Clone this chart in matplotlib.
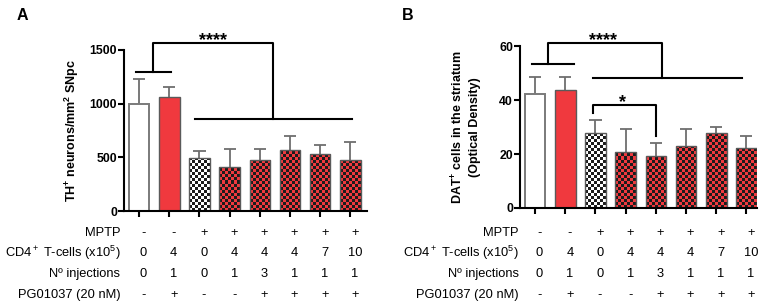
import numpy as np
import matplotlib
matplotlib.use('Agg')
from matplotlib import pyplot as plt
from matplotlib.transforms import blended_transform_factory

plt.rcParams['font.family'] = ['Liberation Sans', 'DejaVu Sans']
plt.rcParams['mathtext.fontset'] = 'custom'
plt.rcParams['mathtext.rm'] = 'Liberation Sans'
plt.rcParams['mathtext.bf'] = 'Liberation Sans:bold'
plt.rcParams['mathtext.it'] = 'Liberation Sans:italic'

W, H = 765, 305

# values (mean, upper SD)
th_mean = [1000, 1062, 491, 412, 472, 572, 534, 472]
th_err = [231, 94, 65, 163, 103, 125, 79, 169]
dat_mean = [42.1, 43.8, 27.9, 20.9, 19.1, 22.8, 27.9, 22.1]
dat_err = [6.6, 4.6, 4.7, 8.2, 4.9, 6.3, 2.2, 4.5]

# treatment table under the bars
mptp = ['-', '-', '+', '+', '+', '+', '+', '+']
cd4_cells = ['0', '4', '0', '4', '4', '4', '7', '10']
injections = ['0', '1', '0', '1', '3', '1', '1', '1']
pg01037 = ['-', '+', '-', '-', '+', '+', '+', '+']
row_labels = ['MPTP', 'CD4$^+$ T-cells (x10$^5$)', 'Nº injections', 'PG01037 (20 nM)']
fills = ['white', 'red', 'bw', 'rk', 'rk', 'rk', 'rk', 'rk']

RED = '#f0393e'
DARK = '#1c1c1c'
BAR_W = 0.68


def checker(ax, x0, x1, top, c1, c2, cell_px=3.0):
    # pixel size of one data unit, used to keep square cells
    bb = ax.get_position()
    xl, yl = ax.get_xlim(), ax.get_ylim()
    px_x = bb.width * W / (xl[1] - xl[0])
    px_y = bb.height * H / (yl[1] - yl[0])
    nx = max(1, int(round((x1 - x0) * px_x / cell_px)))
    ny = max(1, int(round(top * px_y / cell_px)))
    a = np.array(matplotlib.colors.to_rgb(c1))
    b = np.array(matplotlib.colors.to_rgb(c2))
    ii, jj = np.indices((ny, nx))
    mask = ((ii + jj) % 2 == 0)[..., None]
    img = np.where(mask, a, b)
    im = ax.imshow(img, extent=(x0, x1, 0, ny * cell_px / px_y), origin='lower',
                   aspect='auto', interpolation='nearest', zorder=1.5)
    rect = plt.Rectangle((x0, 0), x1 - x0, top, transform=ax.transData)
    im.set_clip_path(rect)


def panel(ax, means, errs, ylim, yticks, xlim, ylabel, label_x, row_x):
    x = np.arange(len(means))
    ax.set_xlim(*xlim)
    ax.set_ylim(*ylim)
    means = np.array(means, dtype=float)
    errs = np.array(errs, dtype=float)
    ax.vlines(x, means, means + errs, color='#6e6e6e', lw=1.3, zorder=1)
    ax.hlines(means + errs, x - 0.2, x + 0.2, color='#6e6e6e', lw=1.3, zorder=1)
    for i, (m, f) in enumerate(zip(means, fills)):
        x0, x1 = i - BAR_W / 2, i + BAR_W / 2
        if f == 'white':
            ax.bar(i, m, BAR_W, color='white', edgecolor='#7a7a7a', lw=1.4, zorder=2)
        elif f == 'red':
            ax.bar(i, m, BAR_W, color=RED, edgecolor='#5a5a5a', lw=1.0, zorder=2)
        else:
            c1 = 'white' if f == 'bw' else RED
            checker(ax, x0, x1, m, c1, DARK)
            ax.bar(i, m, BAR_W, color='none', edgecolor='#5a5a5a', lw=1.0, zorder=2)
    ax.set_xlim(*xlim)
    ax.set_ylim(*ylim)
    ax.set_yticks(yticks)
    ax.set_xticks(x)
    ax.set_xticklabels([])
    for lab in ax.get_yticklabels():
        lab.set_fontweight('bold')
    ax.tick_params(axis='both', direction='out', length=4, width=1.5,
                   labelsize=8.8, pad=1)
    for s in ['top', 'right']:
        ax.spines[s].set_visible(False)
    for s in ['left', 'bottom']:
        ax.spines[s].set_linewidth(1.5)
    ax.set_ylabel(ylabel, fontsize=9, fontweight='bold', linespacing=1.3)
    ax.yaxis.set_label_coords(label_x, 0.5)

    # treatment table
    fig = ax.figure
    tv = blended_transform_factory(ax.transData, fig.transFigure)
    tl = blended_transform_factory(ax.transAxes, fig.transFigure)
    rows = [mptp, cd4_cells, injections, pg01037]
    row_y = [233, 253, 274, 295]
    for lab, vals, yp in zip(row_labels, rows, row_y):
        fig.text(row_x, 1 - yp / H, lab, transform=tl, ha='right', va='center',
                 fontsize=9.3)
        for i, v in enumerate(vals):
            fig.text(i + 0.15, 1 - yp / H, v, transform=tv, ha='center',
                     va='center', fontsize=9.3)


def bracket(ax, pts):
    xs, ys = zip(*pts)
    ax.plot(xs, ys, color='black', lw=1.5, clip_on=False, zorder=3)


fig = plt.figure(figsize=(W / 100, H / 100), dpi=100)
axA = fig.add_axes([124 / W, (H - 211) / H, 243 / W, 161 / H])
axB = fig.add_axes([520 / W, (H - 208) / H, 237 / W, 162 / H])

panel(axA, th_mean, th_err, (0, 1500), [0, 500, 1000, 1500], (-0.5, 7.55),
      'TH$^\\mathbf{+}$ neurons/mm$^\\mathbf{2}$ SNpc', -0.175, -0.015)
panel(axB, dat_mean, dat_err, (0, 60), [0, 20, 40, 60], (-0.5, 7.35),
      'DAT$^\\mathbf{+}$ cells in the striatum\n(Optical Density)', -0.166, -0.005)

# significance marks, panel A
bracket(axA, [(-0.1, 1297), (1.05, 1297)])
bracket(axA, [(0.46, 1297), (0.46, 1562), (4.45, 1562), (4.45, 855)])
bracket(axA, [(1.85, 855), (7.05, 855)])
axA.text(2.45, 1550, '****', ha='center', va='baseline', fontsize=13, fontweight='bold')

# significance marks, panel B
bracket(axB, [(-0.1, 53.2), (1.29, 53.2)])
bracket(axB, [(0.43, 53.2), (0.43, 61.2), (4.19, 61.2), (4.19, 48.0)])
bracket(axB, [(1.91, 48.0), (6.86, 48.0)])
bracket(axB, [(1.91, 35.3), (1.91, 38.3), (4.0, 38.3), (4.0, 26.6)])
axB.text(2.24, 60.4, '****', ha='center', va='baseline', fontsize=13, fontweight='bold')
axB.text(2.9, 37.4, '*', ha='center', va='baseline', fontsize=13, fontweight='bold')

fig.text(22 / W, 1 - 15 / H, 'A', fontsize=11.5, fontweight='bold', ha='center', va='center')
fig.text(408 / W, 1 - 15 / H, 'B', fontsize=11.5, fontweight='bold', ha='center', va='center')

fig.savefig('out.png', dpi=100)
